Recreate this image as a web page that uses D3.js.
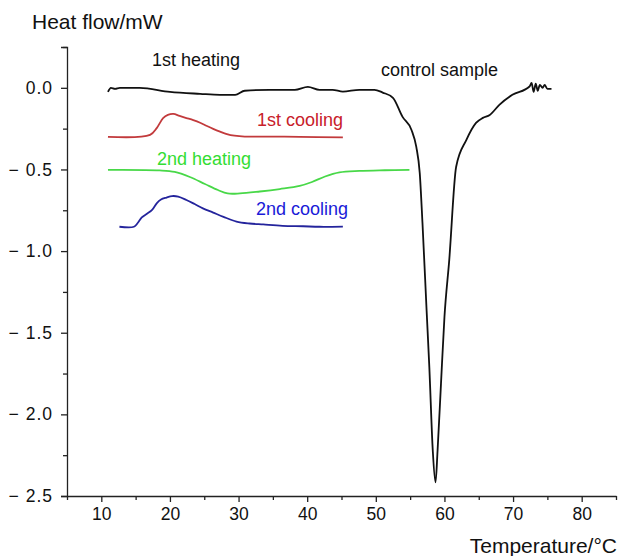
<!DOCTYPE html>
<html>
<head>
<meta charset="utf-8">
<script src="https://cdn.jsdelivr.net/npm/d3@7"></script>
<style>
  body { margin: 0; background: #fff; }
  text { font-family: "Liberation Sans", Arial, sans-serif; }
</style>
</head>
<body>
<div id="chart"></div>
<script>
// temperature (°C) / heat flow (mW)
var controlT = [10.97, 11.4, 12.0, 12.7, 15.6, 20.0, 24.4, 27.3, 29.5, 30.9, 34.5, 38.2, 40.1, 41.8, 43.7, 45.2, 47.6, 49.8, 51.0, 52.5, 53.9, 55.2, 55.9, 56.4, 56.8, 57.4, 57.8, 58.3, 58.7, 59.0, 59.5, 60.0, 60.7, 61.7, 63.2, 64.6, 65.6, 66.6, 68.0, 69.9, 72.4, 72.7, 73.0, 73.3, 73.6, 73.9, 74.3, 74.6, 75.0, 75.6];
var controlHF = [-0.025, 0, -0.006, 0, 0, -0.025, -0.037, -0.043, -0.043, -0.018, -0.012, -0.012, 0.006, -0.012, -0.012, -0.023, -0.012, -0.012, -0.029, -0.061, -0.178, -0.258, -0.362, -0.521, -0.828, -1.362, -1.712, -2.221, -2.417, -2.221, -1.81, -1.405, -1.055, -0.485, -0.319, -0.215, -0.184, -0.166, -0.104, -0.043, 0.008, 0.03, -0.025, 0.025, -0.018, 0.018, 0, 0.018, -0.006, -0.006];

var cool1T = [10.97, 17.1, 18.1, 19.0, 19.7, 20.5, 21.4, 22.4, 23.4, 24.4, 25.3, 26.3, 27.3, 28.3, 29.4, 30.9, 32.6, 38.9, 45.2];
var cool1HF = [-0.30, -0.288, -0.245, -0.186, -0.166, -0.160, -0.172, -0.185, -0.198, -0.214, -0.232, -0.251, -0.268, -0.283, -0.293, -0.299, -0.299, -0.30, -0.304];

var heat2T = [10.97, 18.5, 20.7, 22.9, 25.1, 27.0, 28.4, 30.2, 33.1, 36.0, 38.9, 40.7, 42.6, 44.7, 47.6, 51.3, 54.9];
var heat2HF = [-0.503, -0.506, -0.515, -0.546, -0.589, -0.626, -0.647, -0.647, -0.635, -0.620, -0.601, -0.577, -0.543, -0.518, -0.509, -0.505, -0.503];

var cool2T = [12.64, 14.75, 15.3, 15.9, 16.6, 17.4, 18.1, 18.7, 19.5, 20.3, 21.2, 22.4, 23.6, 24.8, 26.3, 27.8, 29.7, 31.6, 33.6, 36.4, 39.4, 41.8, 45.2];
var cool2HF = [-0.851, -0.851, -0.828, -0.794, -0.773, -0.748, -0.706, -0.684, -0.672, -0.663, -0.666, -0.687, -0.712, -0.738, -0.764, -0.790, -0.819, -0.831, -0.837, -0.845, -0.848, -0.851, -0.850];

var xTicks = [10, 20, 30, 40, 50, 60, 70, 80];
var yTicks = [0, -0.5, -1.0, -1.5, -2.0, -2.5];

var width = 620, height = 556;
var margin = { top: 47, right: 4, bottom: 60, left: 67 };

var svg = d3.select("#chart").append("svg")
  .attr("width", width)
  .attr("height", height);

var x = d3.scaleLinear().domain([5, 85]).range([margin.left, width - margin.right]);
var y = d3.scaleLinear().domain([-2.5, 0.25]).range([height - margin.bottom, margin.top]);

// y axis
var yAxis = d3.axisLeft(y)
  .tickValues(yTicks)
  .tickSize(6)
  .tickPadding(8)
  .tickFormat(function (d) {
    var s = d3.format(".1f")(Math.abs(d));
    return d < 0 ? "\u2212 " + s : s;
  });
var gy = svg.append("g")
  .attr("transform", "translate(" + margin.left + ",0)")
  .call(yAxis);
gy.selectAll("text")
  .attr("font-size", "17.5px")
  .attr("letter-spacing", "1px")
  .attr("fill", "#111");

// minor y ticks
svg.append("g")
  .attr("transform", "translate(" + margin.left + ",0)")
  .call(d3.axisLeft(y).tickValues([0.25, -0.25, -0.75, -1.25, -1.75, -2.25]).tickSize(4).tickFormat(""))
  .select(".domain").remove();

// x axis
var gx = svg.append("g")
  .attr("transform", "translate(0," + (height - margin.bottom) + ")")
  .call(d3.axisBottom(x).tickValues(xTicks).tickSize(6).tickPadding(6).tickSizeOuter(0));
gx.selectAll("text").attr("font-size", "17.5px").attr("fill", "#111");

svg.append("g")
  .attr("transform", "translate(0," + (height - margin.bottom) + ")")
  .call(d3.axisBottom(x).tickValues([5, 15, 25, 35, 45, 55, 65, 75, 85]).tickSize(4).tickFormat(""))
  .select(".domain").remove();

svg.selectAll(".domain, .tick line").attr("stroke", "#222").attr("stroke-width", 1.3);

// axis titles
svg.append("text")
  .attr("x", 32).attr("y", 29)
  .attr("font-size", "21px").attr("fill", "#111")
  .text("Heat flow/mW");
svg.append("text")
  .attr("x", 617).attr("y", 553)
  .attr("text-anchor", "end")
  .attr("font-size", "21px").attr("fill", "#111")
  .text("Temperature/\u00b0C");

// curves
var line = d3.line()
  .x(function (d) { return x(d[0]); })
  .y(function (d) { return y(d[1]); })
  .curve(d3.curveMonotoneX);

var smooth = d3.line()
  .x(function (d) { return x(d[0]); })
  .y(function (d) { return y(d[1]); })
  .curve(d3.curveCatmullRom.alpha(0.5));

function drawCurve(ts, hf, color, gen) {
  svg.append("path")
    .datum(d3.zip(ts, hf))
    .attr("d", gen)
    .attr("fill", "none")
    .attr("stroke", color)
    .attr("stroke-width", 1.8)
    .attr("stroke-linejoin", "round");
}

drawCurve(cool1T, cool1HF, "#c23a3c", smooth);
drawCurve(heat2T, heat2HF, "#48d848", smooth);
drawCurve(cool2T, cool2HF, "#24249c", smooth);
drawCurve(controlT, controlHF, "#111", line);

// labels
var labels = [
  { t: "1st heating", x: 152, y: 66, c: "#111" },
  { t: "control sample", x: 381, y: 76, c: "#111" },
  { t: "1st cooling", x: 257, y: 126, c: "#c8202a" },
  { t: "2nd heating", x: 157, y: 165, c: "#33dd33" },
  { t: "2nd cooling", x: 256, y: 215, c: "#1a1ad8" }
];
svg.selectAll(".lbl")
  .data(labels)
  .enter()
  .append("text")
  .attr("class", "lbl")
  .attr("x", function (d) { return d.x; })
  .attr("y", function (d) { return d.y; })
  .attr("fill", function (d) { return d.c; })
  .attr("font-size", "18px")
  .text(function (d) { return d.t; });
</script>
</body>
</html>
